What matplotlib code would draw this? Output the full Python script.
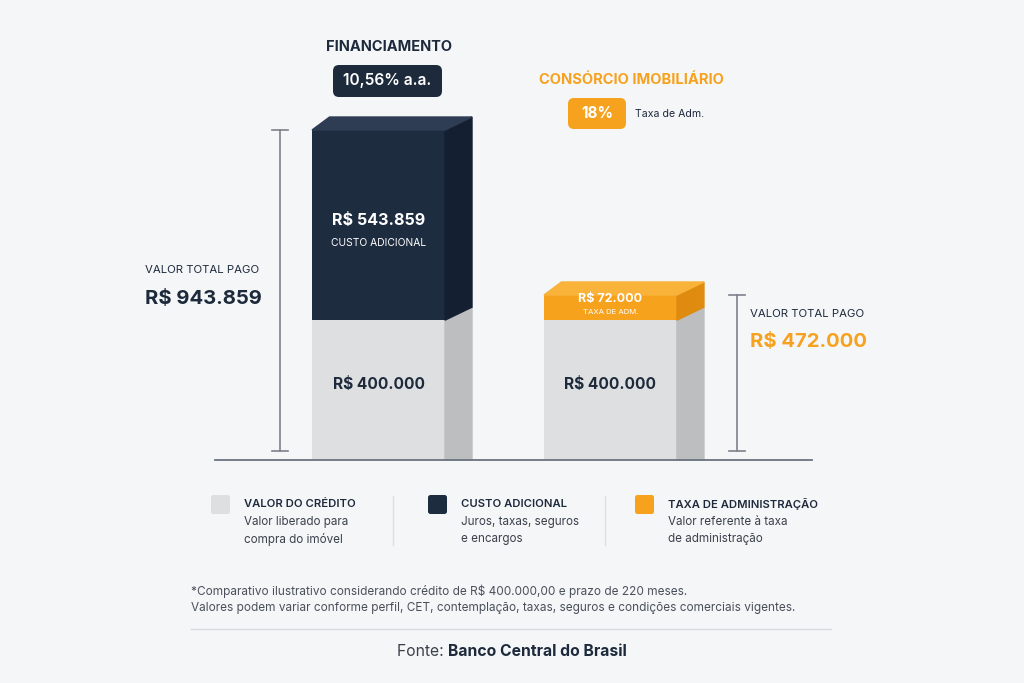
import matplotlib.pyplot as plt
from matplotlib.patches import Polygon, FancyBboxPatch

plt.rcParams['font.family'] = ['Inter', 'DejaVu Sans']

# dados
categorias = ["FINANCIAMENTO", "CONSÓRCIO IMOBILIÁRIO"]
taxas = ["10,56% a.a.", "18%"]
valor_credito = [400000, 400000]
custo_extra = [543859, 72000]
rotulos_extra = ["CUSTO ADICIONAL", "TAXA DE ADM."]
totais = [c + e for c, e in zip(valor_credito, custo_extra)]

legenda_titulos = ["VALOR DO CRÉDITO", "CUSTO ADICIONAL", "TAXA DE ADMINISTRAÇÃO"]
legenda_textos = [["Valor liberado para", "compra do imóvel"],
                  ["Juros, taxas, seguros", "e encargos"],
                  ["Valor referente à taxa", "de administração"]]

notas = ["*Comparativo ilustrativo considerando crédito de R$ 400.000,00 e prazo de 220 meses.",
         "Valores podem variar conforme perfil, CET, contemplação, taxas, seguros e condições comerciais vigentes."]


def brl(v):
    return "R$ " + f"{v:,.0f}".replace(",", ".")


BG = "#f5f6f8"
DARK = "#1d2a3c"
ORANGE = "#f6a21e"
GRAY_TXT = "#3a414c"

cores_frente = ["#dedfe0", "#1e2c40", "#f7a21c"]
cores_lado = ["#bdbec0", "#142032", "#df8b10"]
cores_topo = ["#e8e9ea", "#2e3d53", "#f9b33a"]

W, H = 1024, 683
fig = plt.figure(figsize=(W / 100, H / 100), dpi=100)
fig.patch.set_facecolor(BG)

# camada em pixels para textos e legenda
ov = fig.add_axes([0, 0, 1, 1])
ov.set_xlim(0, W)
ov.set_ylim(H, 0)
ov.axis("off")

# eixo das barras
ax_l, ax_r, ax_t, ax_b = 215, 812, 130, 460
ax = fig.add_axes([ax_l / W, 1 - ax_b / H, (ax_r - ax_l) / W, (ax_b - ax_t) / H])
ax.set_xlim(-0.705, 1.869)
ax.set_ylim(0, max(totais))
ax.axis("off")

px_x = (ax_r - ax_l) / (1.869 + 0.705)
px_y = (ax_b - ax_t) / max(totais)
dx = 27 / px_x
dy = 13 / px_y
w = 133 / px_x

for i in range(len(categorias)):
    segs = [(0, valor_credito[i], 0), (valor_credito[i], custo_extra[i], 1 if i == 0 else 2)]
    x0, x1 = i - w / 2, i + w / 2
    for k, (b, h, c) in enumerate(segs):
        t = b + h
        ax.bar(i, h, bottom=b, width=w, color=cores_frente[c], zorder=3)
        yb = b + dy if b > 0 else b
        ax.add_patch(Polygon([(x1, b), (x1 + dx, yb), (x1 + dx, t + dy), (x1, t)],
                             closed=True, color=cores_lado[c], zorder=3, clip_on=False))
        if k == len(segs) - 1:
            ax.add_patch(Polygon([(x0, t), (x0 + dx * 0.65, t + dy), (x1 + dx, t + dy), (x1, t)],
                                 closed=True, color=cores_topo[c], zorder=3, clip_on=False))

    # rótulos dentro das barras
    ax.annotate(brl(valor_credito[i]), (i, valor_credito[i] / 2), xytext=(0, 4), textcoords="offset points",
                ha="center", va="center", fontsize=11.2, fontweight="bold", color=DARK, zorder=5)
    meio = valor_credito[i] + custo_extra[i] / 2
    if custo_extra[i] * px_y > 60:
        ax.annotate(brl(custo_extra[i]), (i, meio), xytext=(0, 3), textcoords="offset points",
                    ha="center", va="center", fontsize=11.6, fontweight="bold", color="white", zorder=5)
        ax.annotate(rotulos_extra[i], (i, meio), xytext=(0, -13), textcoords="offset points",
                    ha="center", va="center", fontsize=7.4, color="white", zorder=5)
    else:
        ax.annotate(brl(custo_extra[i]), (i, meio), xytext=(0, 2), textcoords="offset points",
                    ha="center", va="bottom", fontsize=9, fontweight="bold", color="white", zorder=5)
        ax.annotate(rotulos_extra[i], (i, meio), xytext=(0, -1), textcoords="offset points",
                    ha="center", va="top", fontsize=5.6, color="white", zorder=5)

# linha de base
ax.axhline(0, color="#6b7380", lw=1.3, zorder=4, clip_on=False)

# cotas de valor total
for xc, tot in [(-0.425, totais[0]), (1.545, totais[1])]:
    y0 = 9 / px_y
    ax.plot([xc, xc], [y0, tot], color="#7b818b", lw=1.2, clip_on=False)
    for yy in (y0, tot):
        ax.plot([xc - 0.035, xc + 0.035], [yy, yy], color="#7b818b", lw=1.2, clip_on=False)

# títulos e taxas
ov.text(389, 47, categorias[0], ha="center", va="center", fontsize=10.5, fontweight="bold", color=DARK)
ov.add_patch(FancyBboxPatch((333, 65), 109, 32, boxstyle="round,pad=0,rounding_size=6",
                            fc=DARK, ec="none"))
ov.text(387.5, 81, taxas[0], ha="center", va="center", fontsize=11.2, fontweight="semibold", color="white")

ov.text(631, 80, categorias[1], ha="center", va="center", fontsize=10.6, fontweight="bold", color=ORANGE)
ov.add_patch(FancyBboxPatch((568, 98), 58, 31, boxstyle="round,pad=0,rounding_size=6",
                            fc=ORANGE, ec="none"))
ov.text(597, 113.5, taxas[1], ha="center", va="center", fontsize=11, fontweight="bold", color="white")
ov.text(635, 114, "Taxa de Adm.", ha="left", va="center", fontsize=7.6, color=DARK)

# valor total pago
ov.text(145, 270, "VALOR TOTAL PAGO", ha="left", va="center", fontsize=8.2, color=DARK)
ov.text(145, 299, brl(totais[0]), ha="left", va="center", fontsize=14.6, fontweight="bold", color=DARK)
ov.text(750, 314, "VALOR TOTAL PAGO", ha="left", va="center", fontsize=8.2, color=DARK)
ov.text(750, 342, brl(totais[1]), ha="left", va="center", fontsize=14.6, fontweight="bold", color=ORANGE)

# legenda
leg_x = [211, 428, 635]
for j in range(3):
    ov.add_patch(FancyBboxPatch((leg_x[j], 495), 19, 19, boxstyle="round,pad=0,rounding_size=2.5",
                                fc=cores_frente[j], ec="none"))
    ov.text(leg_x[j] + 33, 504, legenda_titulos[j], ha="left", va="center", fontsize=8.1,
            fontweight="semibold", color=DARK)
    for n, linha in enumerate(legenda_textos[j]):
        ov.text(leg_x[j] + 33, 522 + n * 17, linha, ha="left", va="center", fontsize=8.4, color=GRAY_TXT)
for xs in (393, 605):
    ov.plot([xs, xs], [496, 545], color="#dcdfe3", lw=1)

# notas
for n, nota in enumerate(notas):
    ov.text(191, 591 + n * 17, nota, ha="left", va="center", fontsize=8.5, color="#4a505a")
ov.plot([191, 831], [629, 629], color="#d6d9dd", lw=1)

# fonte centralizada
t1 = ov.text(0, 652, "Fonte: ", ha="left", va="center", fontsize=11.3, color=GRAY_TXT)
t2 = ov.text(0, 652, "Banco Central do Brasil", ha="left", va="center", fontsize=11.3,
             fontweight="bold", color=DARK)
r = fig.canvas.get_renderer()
w1 = t1.get_window_extent(r).width
w2 = t2.get_window_extent(r).width
x_ini = 512 - (w1 + w2) / 2
t1.set_x(x_ini)
t2.set_x(x_ini + w1)

fig.savefig("out.png", dpi=100, facecolor=BG)
